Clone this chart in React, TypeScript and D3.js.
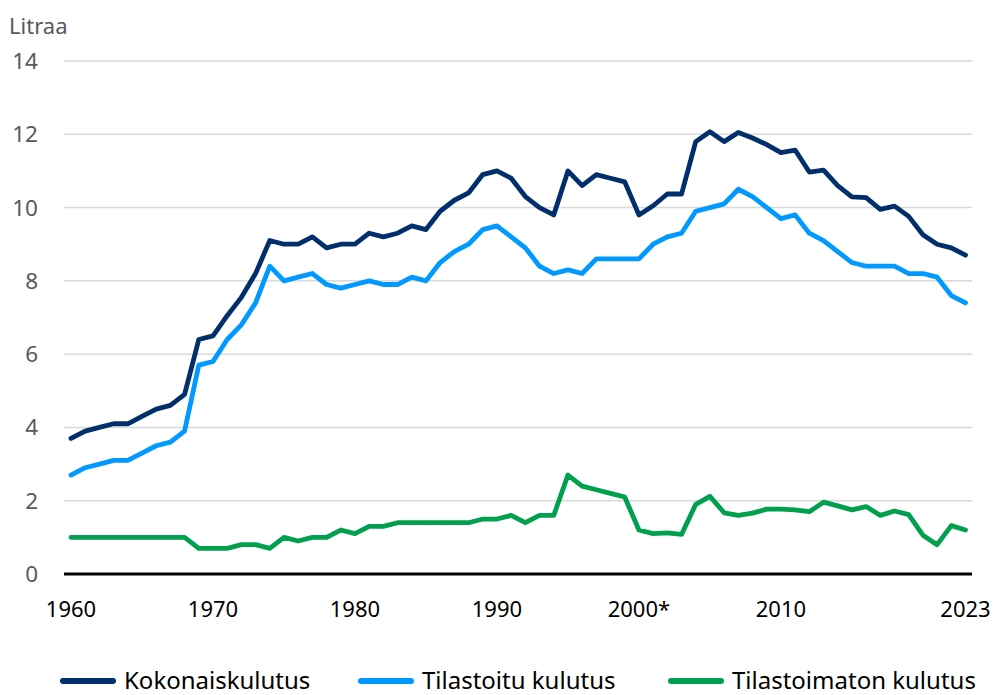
import * as d3 from 'd3';

const years = d3.range(1960, 2024);

const kokonais = [
  3.7, 3.9, 4.0, 4.1, 4.1, 4.3, 4.5, 4.6, 4.9, 6.4,
  6.5, 7.05, 7.55, 8.2, 9.1, 9.0, 9.0, 9.2, 8.9, 9.0,
  9.0, 9.3, 9.2, 9.3, 9.5, 9.4, 9.9, 10.2, 10.4, 10.9,
  11.0, 10.8, 10.3, 10.0, 9.8, 11.0, 10.6, 10.9, 10.8, 10.7,
  9.8, 10.05, 10.37, 10.37, 11.8, 12.07, 11.8, 12.05, 11.9, 11.72,
  11.5, 11.57, 10.97, 11.02, 10.6, 10.29, 10.27, 9.95, 10.04, 9.76,
  9.26, 9.0, 8.9, 8.7,
];

const tilastoitu = [
  2.7, 2.9, 3.0, 3.1, 3.1, 3.3, 3.5, 3.6, 3.9, 5.7,
  5.8, 6.4, 6.8, 7.4, 8.4, 8.0, 8.1, 8.2, 7.9, 7.8,
  7.9, 8.0, 7.9, 7.9, 8.1, 8.0, 8.5, 8.8, 9.0, 9.4,
  9.5, 9.2, 8.9, 8.4, 8.2, 8.3, 8.2, 8.6, 8.6, 8.6,
  8.6, 9.0, 9.2, 9.3, 9.9, 10.0, 10.1, 10.5, 10.3, 10.0,
  9.7, 9.8, 9.3, 9.1, 8.8, 8.5, 8.4, 8.4, 8.4, 8.2,
  8.2, 8.1, 7.6, 7.4,
];

const tilastoimaton = [
  1.0, 1.0, 1.0, 1.0, 1.0, 1.0, 1.0, 1.0, 1.0, 0.7,
  0.7, 0.7, 0.8, 0.8, 0.7, 1.0, 0.9, 1.0, 1.0, 1.2,
  1.1, 1.3, 1.3, 1.4, 1.4, 1.4, 1.4, 1.4, 1.4, 1.5,
  1.5, 1.6, 1.4, 1.6, 1.6, 2.7, 2.4, 2.3, 2.2, 2.1,
  1.2, 1.1, 1.12, 1.08, 1.9, 2.12, 1.67, 1.6, 1.66, 1.77,
  1.77, 1.75, 1.7, 1.96, 1.86, 1.75, 1.84, 1.6, 1.72, 1.62,
  1.06, 0.8, 1.32, 1.2,
];

const yTicks = [0, 2, 4, 6, 8, 10, 12, 14];
const xTicks = [1960, 1970, 1980, 1990, 2000, 2010, 2023];
const xTickLabels = ['1960', '1970', '1980', '1990', '2000*', '2010', '2023'];

const seriesNames = ['Kokonaiskulutus', 'Tilastoitu kulutus', 'Tilastoimaton kulutus'];
const seriesValues = [kokonais, tilastoitu, tilastoimaton];
const colors = ['#002f6c', '#0099ff', '#00a04e'];

const width = 996;
const height = 695;
const font = '"Noto Sans", "Open Sans", sans-serif';

export default function App() {
  const x = d3.scaleLinear().domain([1960, 2023]).range([71, 965.5]);
  const y = d3.scaleLinear().domain([0, 14]).range([574, 61]);

  const line = d3
    .line<number>()
    .x((_, i) => x(years[i]))
    .y((d) => y(d));

  const legendX = [60, 358, 668];

  return (
    <svg
      width={width}
      height={height}
      style={{ position: 'absolute', left: 0, top: 0, background: '#fff' }}
      fontFamily={font}
    >
      {/* gridlines */}
      {yTicks
        .filter((t) => t > 0)
        .map((t) => (
          <line
            key={t}
            x1={64}
            x2={972}
            y1={y(t)}
            y2={y(t)}
            stroke="#d9d9d9"
            strokeWidth={1.5}
          />
        ))}
      {yTicks.map((t) => (
        <text
          key={'yl' + t}
          x={38}
          y={y(t) + 8}
          textAnchor="end"
          fontSize={22.5}
          fill="#595959"
        >
          {t}
        </text>
      ))}
      <text x={9} y={34} fontSize={22} fill="#595959">
        Litraa
      </text>

      {/* series */}
      {seriesValues.map((vals, i) => (
        <path
          key={seriesNames[i]}
          d={line(vals) || ''}
          fill="none"
          stroke={colors[i]}
          strokeWidth={4.8}
          strokeLinejoin="round"
          strokeLinecap="round"
        />
      ))}

      {/* x axis */}
      <line x1={64} x2={972} y1={y(0)} y2={y(0)} stroke="#000" strokeWidth={3} />
      {xTicks.map((t, i) => (
        <text
          key={'xl' + t}
          x={x(t)}
          y={617}
          textAnchor="middle"
          fontSize={22}
          fill="#000"
        >
          {xTickLabels[i]}
        </text>
      ))}

      {/* legend */}
      {seriesNames.map((name, i) => (
        <g key={'lg' + name} transform={`translate(${legendX[i]},681)`}>
          <line
            x1={3}
            x2={53}
            y1={0}
            y2={0}
            stroke={colors[i]}
            strokeWidth={6}
            strokeLinecap="round"
          />
          <text x={64} y={8} fontSize={24} fill="#000">
            {name}
          </text>
        </g>
      ))}
    </svg>
  );
}
